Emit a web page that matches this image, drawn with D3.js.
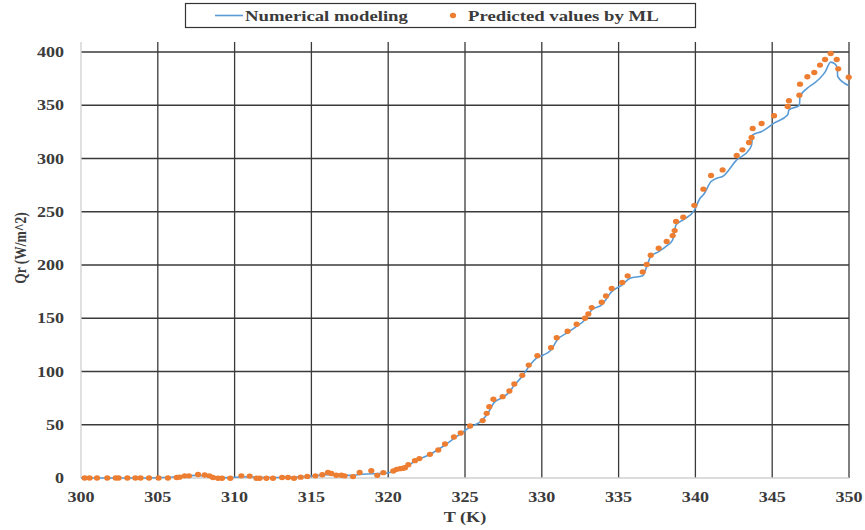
<!DOCTYPE html>
<html><head><meta charset="utf-8">
<script src="https://cdn.jsdelivr.net/npm/d3@7/dist/d3.min.js"></script>
<style>body{margin:0;background:#fff}svg{display:block}</style>
</head><body>
<svg id="c" width="865" height="530"></svg>
<script>
const xTicks = [300,305,310,315,320,325,330,335,340,345,350];
const yTicks = [0,50,100,150,200,250,300,350,400];

const lineT = [300,301,302,303,304,305,306,306.7,307.5,308.3,309,309.7,310.4,311,311.6,312.5,313.3,314.3,315.2,316,316.8,317.6,318.3,319,319.7,320.3,321,321.7,322.7,323.7,324.7,325.3,326.1,326.5,326.9,327.5,327.9,328.2,328.7,329.2,329.7,330.1,330.6,331,331.7,332.3,332.8,333.25,333.9,334.55,335.24,335.74,336.57,336.83,337.09,337.61,338.13,338.52,338.74,339.21,339.95,340.3,340.52,341.02,341.39,341.77,342.69,343.49,343.66,343.73,344.31,345.12,346.01,346.09,346.77,346.81,347.29,347.74,348.11,348.44,348.81,349.1,349.24,349.26,349.98];
const lineQ = [0,0,0,0,0,0.3,1,2,2.5,1.8,0.6,0.3,1,1.2,0.6,0.4,0.6,1.2,2,3,2.5,2.5,3.5,4,4.2,6,9,15.5,22,31,41.5,47.5,54,61,71,76,81,87,95,105.5,113,115.5,120.2,129.6,136.8,142.8,148.4,157.8,162.5,175,181.3,187.6,189.8,198.5,207.9,212.6,217.9,223.6,237.7,242.4,251.8,262.7,265.9,278.4,281.5,283.1,298.7,308.1,312.8,322.2,325.3,333.2,341,345.7,349.8,358.2,366,370.8,375.4,381.1,390.5,388.6,384.8,377,368.6];

const dotT = [300.24,300.56,301.04,301.71,302.26,302.45,303.02,303.54,303.88,304.43,305.05,305.66,306.23,306.42,306.75,307.03,307.62,308.05,308.36,308.59,308.92,309.18,309.72,310.44,310.98,311.42,311.63,312.07,312.5,313.09,313.48,313.87,314.3,314.73,315.26,315.71,316.08,316.3,316.62,316.95,317.16,317.71,318.14,318.9,319.29,319.68,320.33,320.55,320.77,320.98,321.09,321.31,321.74,322.03,322.72,323.26,323.7,324.28,324.72,325.33,326.15,326.41,326.58,326.85,327.45,327.89,328.21,328.73,329.15,329.71,330.6,330.97,331.68,332.27,332.81,333.03,333.25,333.9,334.18,334.55,335.24,335.59,336.57,336.83,337.09,337.61,338.13,338.52,338.65,338.74,339.21,339.93,340.52,341.02,341.77,342.69,343.06,343.49,343.66,343.73,344.31,345.12,346.01,346.09,346.77,346.81,347.29,347.74,348.11,348.44,348.81,349.2,349.3,349.98];
const dotQ = [0,0,0,0,0,0,0,0,0,0,0,0,0.5,0.8,2,2,3.3,2.8,2,0.5,-0.4,-0.7,-0.4,2,1.8,-0.5,-0.5,-0.8,-0.8,0.5,0.5,-0.8,0.8,1.5,2,3,5.2,4.2,2.6,2.6,2,1.3,5.2,6.8,2.5,5,6.6,8.1,8.8,9.1,9.7,12.5,16.3,18.2,22.2,26.3,31.9,38.5,42.3,48.8,53.9,60.7,67,73.9,76.4,81.7,88.3,96.4,106,114.9,122.4,131.8,137.8,144.4,150,154.1,160,165,171,177.9,183.5,189.8,193.5,200.4,209.2,215.7,222,227.6,232.3,240.8,244.9,256,271.2,284,289.3,302.8,308.1,315,319.7,328.2,332.9,340.1,348.8,354.2,359.5,369.8,376.7,380.8,387.7,393,398.6,393,384.2,376.4];

const legendLabels = ["Numerical modeling","Predicted values by ML"];
const xTitle = "T (K)", yTitle = "Qr (W/m^2)";

const svg = d3.select("#c");
const L = 81, R = 849, B = 478, T0 = 52, TOP = 42;
const x = d3.scaleLinear().domain([300,350]).range([L,R]);
const y = d3.scaleLinear().domain([0,400]).range([B,T0]);
const FONT = "'Liberation Serif','Times New Roman',serif";
const blue = "#5B9BD5", orange = "#ED7D31";

function stext(g, px, py, str, size, sx, anchor){
  return g.append("text").attr("transform",`translate(${px},${py}) scale(${sx},1)`)
    .attr("text-anchor",anchor).attr("font-family",FONT).attr("font-weight","bold")
    .attr("font-size",size).attr("fill","#3b3b3b").text(str);
}

// gridlines
const grid = svg.append("g");
grid.selectAll(".hg").data(yTicks.filter(d=>d>0)).join("line")
  .attr("x1",L).attr("x2",R).attr("y1",d=>y(d)).attr("y2",d=>y(d))
  .attr("stroke","#3a3a3a").attr("stroke-width",1.3);
grid.selectAll(".vg").data(xTicks.filter(d=>d>300)).join("line")
  .attr("x1",d=>x(d)).attr("x2",d=>x(d)).attr("y1",TOP).attr("y2",B)
  .attr("stroke","#3a3a3a").attr("stroke-width",1.3);
// axes lines
svg.append("line").attr("x1",L).attr("x2",L).attr("y1",TOP).attr("y2",B).attr("stroke","#d0d0d0").attr("stroke-width",1.3);
svg.append("line").attr("x1",L).attr("x2",R).attr("y1",B).attr("y2",B).attr("stroke","#d0d0d0").attr("stroke-width",1.3);

// tick labels
const tl = svg.append("g");
yTicks.forEach(v=>stext(tl, 64, y(v)+5, String(v), 14, 1.29, "end"));
xTicks.forEach(v=>stext(tl, x(v), 502, String(v), 14, 1.29, "middle"));
stext(tl, 465, 522, xTitle, 14, 1.3, "middle");
tl.append("text").attr("transform","translate(26,248) rotate(-90) scale(1,1.2)")
  .attr("text-anchor","middle").attr("font-family",FONT).attr("font-weight","bold")
  .attr("font-size",13.5).attr("fill","#3b3b3b").text(yTitle);

// line
const lineData = lineT.map((t,i)=>[t,lineQ[i]]);
svg.append("path").datum(lineData)
  .attr("d", d3.line().x(d=>x(d[0])).y(d=>y(d[1])).curve(d3.curveMonotoneX))
  .attr("fill","none").attr("stroke",blue).attr("stroke-width",1.6);

// dots
const dotData = dotT.map((t,i)=>[t,dotQ[i]]);
svg.append("g").selectAll("ellipse").data(dotData).join("ellipse")
  .attr("cx",d=>x(d[0])).attr("cy",d=>y(Math.max(d[1],-0.3)))
  .attr("rx",3.1).attr("ry",2.7).attr("fill",orange);

// legend
const lg = svg.append("g");
lg.append("rect").attr("x",185.5).attr("y",3.5).attr("width",510).attr("height",24)
  .attr("fill","#fff").attr("stroke","#333").attr("stroke-width",1.2);
lg.append("line").attr("x1",215).attr("x2",243).attr("y1",15.5).attr("y2",15.5).attr("stroke",blue).attr("stroke-width",1.6);
stext(lg, 245, 21, legendLabels[0], 15, 1.25, "start");
lg.append("ellipse").attr("cx",453).attr("cy",15.5).attr("rx",3.1).attr("ry",2.7).attr("fill",orange);
stext(lg, 468, 21, legendLabels[1], 15, 1.25, "start");
</script>
</body></html>
